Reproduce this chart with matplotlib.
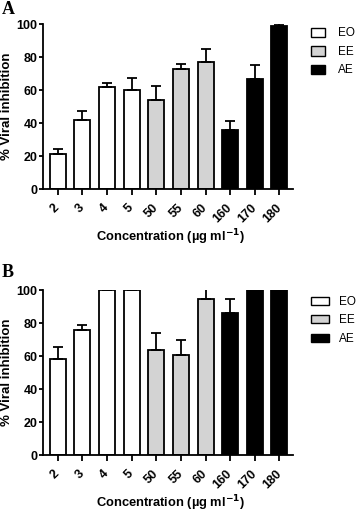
import matplotlib
matplotlib.use("Agg")
import matplotlib.pyplot as plt
from matplotlib.patches import Patch
import numpy as np

plt.rcParams['font.family'] = ['Liberation Sans', 'DejaVu Sans']

categories = ["2", "3", "4", "5", "50", "55", "60", "160", "170", "180"]
groups = ["EO", "EO", "EO", "EO", "EE", "EE", "EE", "AE", "AE", "AE"]
group_colors = {"EO": "white", "EE": "#d3d3d3", "AE": "black"}

values_a = [21, 42, 62, 60, 54, 73, 77, 36, 67, 99]
errors_a = [3, 5.5, 2.5, 7.5, 8.5, 3, 8, 5.5, 8, 1]
values_b = [58, 76, 100, 100, 64, 61, 95, 86, 100, 100]
errors_b = [7.5, 3, 0, 0, 10, 9, 6, 8.5, 0, 0]

W, H = 358, 512
fig = plt.figure(figsize=(W / 100, H / 100), dpi=100)

def draw(ax, values, errors, leg_top_px, hl, hh, htp):
    x = np.arange(len(categories))
    colors = [group_colors[g] for g in groups]
    ax.bar(x, values, width=0.65, color=colors, edgecolor="black", linewidth=1.3, zorder=2)
    ax.errorbar(x, values, yerr=[np.zeros(len(errors)), errors], fmt="none",
                ecolor="black", elinewidth=1.3, capsize=3.5, capthick=1.3, zorder=3)
    ax.set_xlim(-0.6, 9.55)
    ax.set_ylim(0, 100)
    ax.set_yticks([0, 20, 40, 60, 80, 100])
    ax.set_xticks(x)
    ax.set_xticklabels(categories, rotation=45, ha="right", va="center",
                       rotation_mode="anchor")
    for lab in ax.get_xticklabels() + ax.get_yticklabels():
        lab.set_fontweight("bold")
        lab.set_fontsize(9)
    ax.spines["top"].set_visible(False)
    ax.spines["right"].set_visible(False)
    for s in ["left", "bottom"]:
        ax.spines[s].set_linewidth(1.3)
    ax.tick_params(axis="y", width=1.3, length=3, direction="out", pad=1)
    ax.tick_params(axis="x", width=1.3, length=4, direction="out", pad=8)
    ax.set_ylabel("% Viral inhibition", fontsize=9.5, fontweight="bold")
    ax.yaxis.set_label_coords(-0.12, 0.5)
    ax.set_xlabel("Concentration (µg ml$^{\\mathbf{-1}}$)", fontsize=9.3, fontweight="bold")
    ax.xaxis.set_label_coords(0.508, -0.232)
    handles = [Patch(facecolor=group_colors[g], edgecolor="black", linewidth=1.0, label=g)
               for g in ["EO", "EE", "AE"]]
    ax.legend(handles=handles, loc="upper left", bbox_to_anchor=(311 / W, 1 - leg_top_px / H),
              bbox_transform=fig.transFigure, frameon=False, borderpad=0, borderaxespad=0,
              fontsize=8.5, handlelength=hl, handleheight=hh, labelspacing=0.55,
              handletextpad=htp)

ax_a = fig.add_axes([43 / W, 1 - 189 / H, 250 / W, 164.7 / H])
draw(ax_a, values_a, errors_a, 27.5, 1.19, 0.85, 1.1)
ax_b = fig.add_axes([43 / W, 1 - 455 / H, 250 / W, 164.7 / H])
draw(ax_b, values_b, errors_b, 296, 1.53, 0.68, 0.85)

fig.text(2 / W, 1 - 1 / H, "A", fontsize=13, fontweight="bold", family="Liberation Serif",
         va="top", ha="left")
fig.text(2 / W, 1 - 264 / H, "B", fontsize=13, fontweight="bold", family="Liberation Serif",
         va="top", ha="left")

fig.savefig("out.png", dpi=100)
